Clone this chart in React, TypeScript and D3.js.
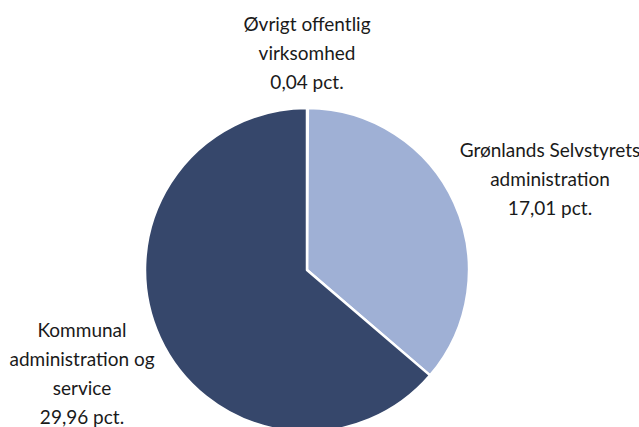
import React from 'react';
import * as d3 from 'd3';

const categories = ['Øvrigt offentlig virksomhed', 'Grønlands Selvstyrets administration', 'Kommunal administration og service'];
const values = [0.04, 17.01, 29.96];
const valueLabels = ['0,04 pct.', '17,01 pct.', '29,96 pct.'];
const labelLines = [
  ['Øvrigt offentlig', 'virksomhed'],
  ['Grønlands Selvstyrets', 'administration'],
  ['Kommunal', 'administration og', 'service'],
];
const swatches = ['#c9d1e6', '#9fb0d5', '#36476b'];

const W = 639;
const H = 427;
const cx = 307;
const cy = 270;
const radius = 162;
const lineH = 29;

// label anchors: x centre and first baseline
const labelPos = [
  { x: 307, y: 31 },
  { x: 550, y: 157 },
  { x: 82, y: 337 },
];

const App = () => {
  const pie = d3.pie<number>().sort(null)(values);
  const arc = d3.arc<d3.PieArcDatum<number>>().innerRadius(0).outerRadius(radius);

  return (
    <svg
      width={W}
      height={H}
      style={{ position: 'absolute', left: 0, top: 0, background: '#fff' }}
      fontFamily="Lato, 'Open Sans', sans-serif"
    >
      <g transform={`translate(${cx},${cy})`}>
        {pie.map((d, i) => (
          <path key={i} d={arc(d) || ''} fill={swatches[i]} stroke="#fff" strokeWidth={2.5} strokeLinejoin="round" />
        ))}
      </g>
      {categories.map((c, i) => {
        const lines = [...labelLines[i], valueLabels[i]];
        return (
          <text key={c} textAnchor="middle" fontSize={19} fill="#1a1a1a">
            {lines.map((t, j) => (
              <tspan key={j} x={labelPos[i].x} y={labelPos[i].y + j * lineH}>{t}</tspan>
            ))}
          </text>
        );
      })}
    </svg>
  );
};

export default App;
